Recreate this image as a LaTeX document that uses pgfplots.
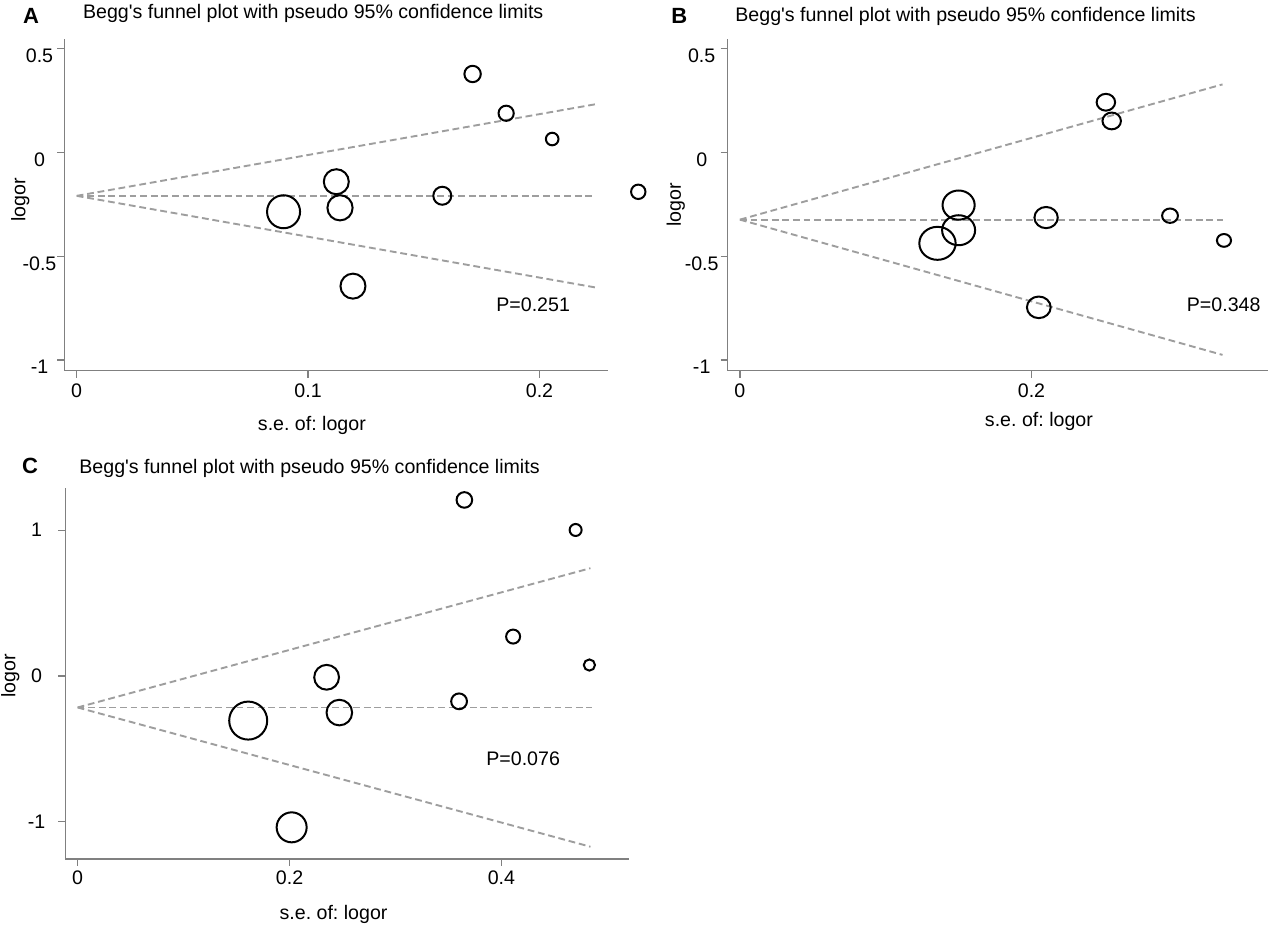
\documentclass[border=0pt]{standalone}
\usepackage{fontspec}
\setmainfont{Liberation Sans}
\usepackage{pgfplots}
\pgfplotsset{compat=1.18}
\definecolor{axisgray}{RGB}{128,128,128}
\definecolor{dashgray}{RGB}{158,158,158}

\pgfplotsset{
  funnel/.style={
    scale only axis,
    anchor=south west,
    axis x line*=bottom, axis y line*=left,
    axis line style={draw=axisgray, line width=0.6pt, -},
    tick style={draw=axisgray, line width=0.6pt},
    tick align=outside, major tick length=3.5pt,
    minor tick num=0,
    clip=false,
    xlabel={s.e. of: logor}, ylabel={logor},
    title={Begg\textquotesingle s funnel plot with pseudo 95\% confidence limits},
    title style={anchor=base west, inner sep=0pt},
    xticklabel style={anchor=north, inner sep=0pt, yshift=-2.7pt},
  },
  c/.style={only marks, mark=o, black, line width=1pt, mark size=#1},
  fun/.style={dashgray, line width=0.95pt, dash pattern=on 3.4pt off 1.9pt, no marks},
}

\begin{document}
\frenchspacing
\fontsize{9.8}{11.8}\selectfont
\begin{tikzpicture}
\useasboundingbox (0,0) rectangle (635pt,463pt);

% ---------------- A
\begin{axis}[funnel,
  at={(32.25pt,277.65pt)}, width=271.85pt, height=165.7pt,
  xmin=-0.00527, xmax=0.2297, ymin=-1.051, ymax=0.544,
  xtick={0,0.1,0.2}, xticklabels={0,0.1,0.2},
  ytick={-1,-0.5,0,0.5}, yticklabels={-1,-0.5,0,0.5},
  yticklabel style={anchor=north, inner sep=0pt, xshift=-9pt},
  title style={at={(axis description cs:0.0335,1.026)}},
  xlabel style={at={(axis description cs:0.455,-0.1805)}, anchor=base},
  ylabel style={at={(axis description cs:-0.0811,0.515)}, anchor=center},
]
\addplot[fun] coordinates {(0,-0.2095) (0.224,0.231)};
\addplot[fun] coordinates {(0,-0.2095) (0.224,-0.2095)};
\addplot[fun] coordinates {(0,-0.2095) (0.224,-0.650)};
\addplot[c=8.25pt] coordinates {(0.0894,-0.286)};
\addplot[c=6.25pt] coordinates {(0.1122,-0.1415)};
\addplot[c=6.3pt]  coordinates {(0.1138,-0.267)};
\addplot[c=6.25pt] coordinates {(0.1194,-0.644)};
\addplot[c=4.5pt]  coordinates {(0.158,-0.209)};
\addplot[c=4.1pt]  coordinates {(0.1711,0.377)};
\addplot[c=3.8pt]  coordinates {(0.1856,0.188)};
\addplot[c=3.15pt] coordinates {(0.2055,0.064)};
\addplot[c=3.6pt]  coordinates {(0.2427,-0.190)};
\node[anchor=base west, inner sep=0pt] at (axis cs:0.1812,-0.7675) {P=0.251};
\end{axis}

% ---------------- B
\begin{axis}[funnel,
  at={(363.85pt,277.65pt)}, width=270.15pt, height=165.7pt,
  xmin=-0.00837, xmax=0.3622, ymin=-1.051, ymax=0.544,
  xtick={0,0.2}, xticklabels={0,0.2},
  ytick={-1,-0.5,0,0.5}, yticklabels={-1,-0.5,0,0.5},
  yticklabel style={anchor=north, inner sep=0pt, xshift=-9.5pt},
  title style={at={(axis description cs:0.0135,1.018)}},
  xlabel style={at={(axis description cs:0.576,-0.167)}, anchor=base},
  ylabel style={at={(axis description cs:-0.0962,0.500)}, anchor=center},
]
\addplot[fun] coordinates {(0,-0.324) (0.331,0.327)};
\addplot[fun] coordinates {(0,-0.324) (0.331,-0.324)};
\addplot[fun] coordinates {(0,-0.324) (0.331,-0.975)};
\addplot[c=8.25pt, mark options={xscale=1.1}] coordinates {(0.1355,-0.438)};
\addplot[c=7.3pt,  mark options={xscale=1.1}] coordinates {(0.150,-0.254)};
\addplot[c=7.5pt,  mark options={xscale=1.1}] coordinates {(0.150,-0.375)};
\addplot[c=5.3pt,  mark options={xscale=1.1}] coordinates {(0.210,-0.314)};
\addplot[c=5.4pt,  mark options={xscale=1.1}] coordinates {(0.205,-0.746)};
\addplot[c=4.2pt,  mark options={xscale=1.1}] coordinates {(0.251,0.241)};
\addplot[c=4.2pt,  mark options={xscale=1.1}] coordinates {(0.255,0.151)};
\addplot[c=3.6pt,  mark options={xscale=1.1}] coordinates {(0.295,-0.305)};
\addplot[c=3.2pt,  mark options={xscale=1.1}] coordinates {(0.332,-0.424)};
\node[anchor=base west, inner sep=0pt] at (axis cs:0.3063,-0.7675) {P=0.348};
\end{axis}

% ---------------- C
\begin{axis}[funnel,
  at={(32.75pt,33.5pt)}, width=281.55pt, height=185.65pt,
  xmin=-0.01143, xmax=0.520, ymin=-1.2551, ymax=1.291,
  xtick={0,0.2,0.4}, xticklabels={0,0.2,0.4},
  ytick={-1,0,1}, yticklabels={-1,0,1},
  yticklabel style={anchor=center, inner sep=0pt, xshift=-11pt},
  xticklabel style={yshift=0.6pt},
  title style={at={(axis description cs:0.024,1.007)}},
  xlabel style={at={(axis description cs:0.476,-0.162)}, anchor=base},
  ylabel style={at={(axis description cs:-0.0982,0.493)}, anchor=center},
]
\addplot[fun] coordinates {(0,-0.216) (0.484,0.739)};
\addplot[fun] coordinates {(0,-0.216) (0.485,-0.216)};
\addplot[fun] coordinates {(0,-0.216) (0.484,-1.171)};
\addplot[c=9.5pt]  coordinates {(0.161,-0.306)};
\addplot[c=7.5pt]  coordinates {(0.202,-1.038)};
\addplot[c=6.2pt]  coordinates {(0.235,-0.009)};
\addplot[c=6.4pt]  coordinates {(0.247,-0.251)};
\addplot[c=3.95pt] coordinates {(0.360,-0.174)};
\addplot[c=3.9pt]  coordinates {(0.365,1.207)};
\addplot[c=3.5pt]  coordinates {(0.411,0.270)};
\addplot[c=3.0pt]  coordinates {(0.470,1.001)};
\addplot[c=2.8pt]  coordinates {(0.483,0.075)};
\node[anchor=base west, inner sep=0pt] at (axis cs:0.3854,-0.617) {P=0.076};
\end{axis}

\node[anchor=base west, inner sep=0pt, font=\fontsize{11}{13}\selectfont\bfseries] at (11.35pt,451pt) {A};
\node[anchor=base west, inner sep=0pt, font=\fontsize{11}{13}\selectfont\bfseries] at (335.5pt,451.35pt) {B};
\node[anchor=base west, inner sep=0pt, font=\fontsize{11}{13}\selectfont\bfseries] at (10.85pt,226pt) {C};
\end{tikzpicture}
\end{document}
